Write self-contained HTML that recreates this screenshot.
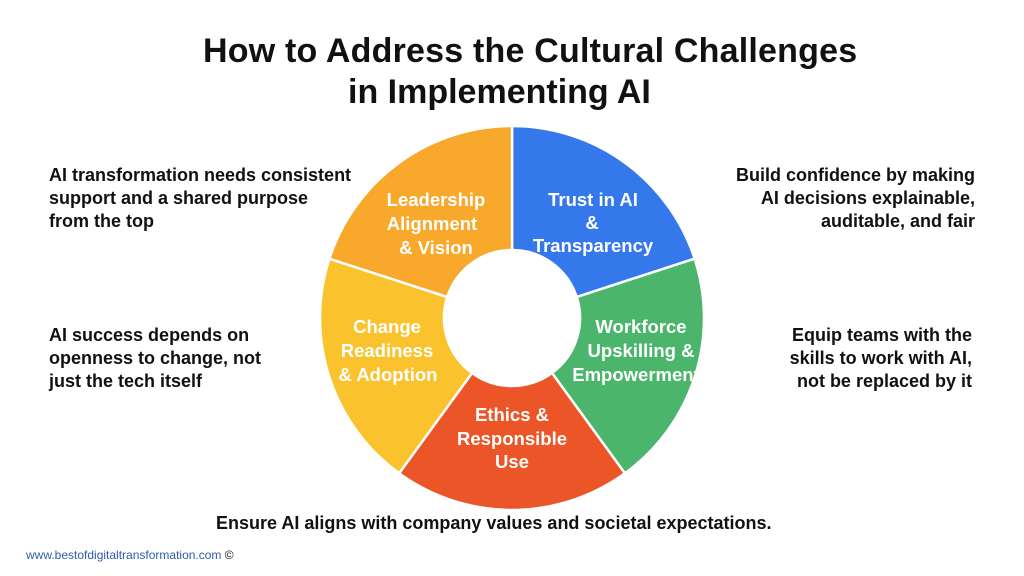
<!DOCTYPE html>
<html><head><meta charset="utf-8"><style>
body{margin:0;width:1024px;height:576px;background:#fff;font-family:"Liberation Sans",sans-serif;position:relative;overflow:hidden}
.t{position:absolute;color:#111;font-weight:bold}
.title{position:absolute;left:0;width:1024px;top:30px;font-size:34px;line-height:42px;color:#111;font-weight:bold}
.s{font-size:18px;line-height:23px;white-space:nowrap}
</style></head><body>
<div class="title"><div style="position:absolute;left:203px;white-space:nowrap;letter-spacing:0.2px">How to Address the Cultural Challenges</div><div style="position:absolute;left:348px;top:41px;white-space:nowrap">in Implementing AI</div></div>
<div class="t s" style="left:49px;top:164px">AI transformation needs consistent<br>support and a shared purpose<br>from the top</div>
<div class="t s" style="left:49px;top:324px">AI success depends on<br>openness to change, not<br>just the tech itself</div>
<div class="t s" style="right:49px;top:164px;text-align:right">Build confidence by making<br>AI decisions explainable,<br>auditable, and fair</div>
<div class="t s" style="right:52px;top:324px;text-align:right">Equip teams with the<br>skills to work with AI,<br>not be replaced by it</div>
<div class="t s" style="left:216px;top:512px">Ensure AI aligns with company values and societal expectations.</div>
<div style="position:absolute;left:26px;top:548px;font-size:12px;color:#2a5ea8">www.bestofdigitaltransformation.com <span style="color:#111">©</span></div>
<svg width="1024" height="576" style="position:absolute;left:0;top:0">
<g stroke="#fff" stroke-width="2.5">
<path d="M512 126 A192 192 0 0 1 694.6 258.7 L576.7 297 A68 68 0 0 0 512 250 Z" fill="#3478ec"/>
<path d="M694.6 258.7 A192 192 0 0 1 624.9 473.3 L552 373 A68 68 0 0 0 576.7 297 Z" fill="#4bb56b"/>
<path d="M624.9 473.3 A192 192 0 0 1 399.1 473.3 L472 373 A68 68 0 0 0 552 373 Z" fill="#ec5527"/>
<path d="M399.1 473.3 A192 192 0 0 1 329.4 258.7 L447.3 297 A68 68 0 0 0 472 373 Z" fill="#fac32e"/>
<path d="M329.4 258.7 A192 192 0 0 1 512 126 L512 250 A68 68 0 0 0 447.3 297 Z" fill="#f8a82b"/>
</g>
<g fill="#fff" font-family="Liberation Sans,sans-serif" font-size="18.5" font-weight="bold" text-anchor="middle">
<text x="593" y="206">Trust in AI</text><text x="592" y="229">&amp;</text><text x="593" y="252">Transparency</text>
<text x="436" y="206">Leadership</text><text x="432" y="230">Alignment</text><text x="436" y="254">&amp; Vision</text>
<text x="387" y="333">Change</text><text x="387" y="357">Readiness</text><text x="388" y="381">&amp; Adoption</text>
<text x="641" y="333">Workforce</text><text x="641" y="357">Upskilling &amp;</text><text x="636" y="381">Empowerment</text>
<text x="512" y="421">Ethics &amp;</text><text x="512" y="445">Responsible</text><text x="512" y="468">Use</text>
</g>
</svg>
</body></html>
